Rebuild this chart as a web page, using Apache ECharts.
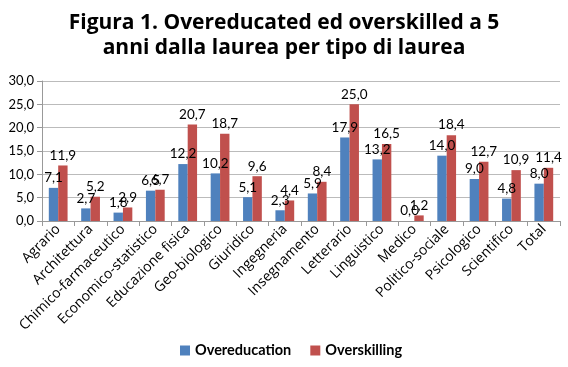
<!DOCTYPE html>
<html><head><meta charset="utf-8">
<script src="https://cdn.jsdelivr.net/npm/echarts@6/dist/echarts.min.js"></script>
<style>html,body{margin:0;padding:0;background:#fff}#c{width:568px;height:367px}</style>
</head><body><div id="c"></div>
<script>
var categories = ["Agrario","Architettura","Chimico-farmaceutico","Economico-statistico","Educazione fisica","Geo-biologico","Giuridico","Ingegneria","Insegnamento","Letterario","Linguistico","Medico","Politico-sociale","Psicologico","Scientifico","Total"];
var overeducation = [7.1,2.7,1.8,6.5,12.2,10.2,5.1,2.3,5.9,17.9,13.2,0.0,14.0,9.0,4.8,8.0];
var overskilling = [11.9,5.2,2.9,6.7,20.7,18.7,9.6,4.4,8.4,25.0,16.5,1.2,18.4,12.7,10.9,11.4];
var titleLines = ["Figura 1. Overeducated ed overskilled a 5","anni dalla laurea per tipo di laurea"];
var fmt = function(v){ return Number(v).toFixed(1).replace('.', ','); };
var FONT = "Lato";
var chart = echarts.init(document.getElementById('c'));
var lbl = {show:true, position:'top', distance:3, color:'#000', fontFamily:FONT, fontSize:13.5, formatter:function(p){return fmt(p.value);}};
chart.setOption({
  animation:false,
  title:{text:titleLines.join('\n'), left:'center', top:6, textStyle:{fontFamily:'Open Sans', fontWeight:'bold', fontSize:21, lineHeight:25, color:'#000'}},
  grid:{left:42, right:8, top:81, bottom:146},
  legend:{bottom:4, left:175, itemWidth:10, itemHeight:10, itemGap:19, icon:'rect', textStyle:{fontFamily:FONT, fontWeight:'bold', fontSize:14.5, color:'#000'}, data:['Overeducation','Overskilling']},
  xAxis:{type:'category', data:categories, axisLine:{lineStyle:{color:'#999'}}, axisTick:{show:true, alignWithLabel:false, lineStyle:{color:'#999'}},
    axisLabel:{rotate:45, interval:0, fontFamily:'Open Sans', fontSize:14, color:'#000', margin:6}},
  yAxis:{type:'value', min:0, max:30, interval:5, axisLine:{show:true, lineStyle:{color:'#999'}}, axisTick:{show:true, lineStyle:{color:'#999'}},
    splitLine:{lineStyle:{color:'#bbb'}}, axisLabel:{fontFamily:FONT, fontSize:13, color:'#000', formatter:fmt}},
  series:[
    {name:'Overeducation', type:'bar', data:overeducation, barWidth:'29%', barGap:'0%', itemStyle:{color:'#4F81BD'}, label:lbl},
    {name:'Overskilling', type:'bar', data:overskilling, barWidth:'29%', barGap:'0%', itemStyle:{color:'#C0504D'}, label:lbl}
  ]
});
</script></body></html>
